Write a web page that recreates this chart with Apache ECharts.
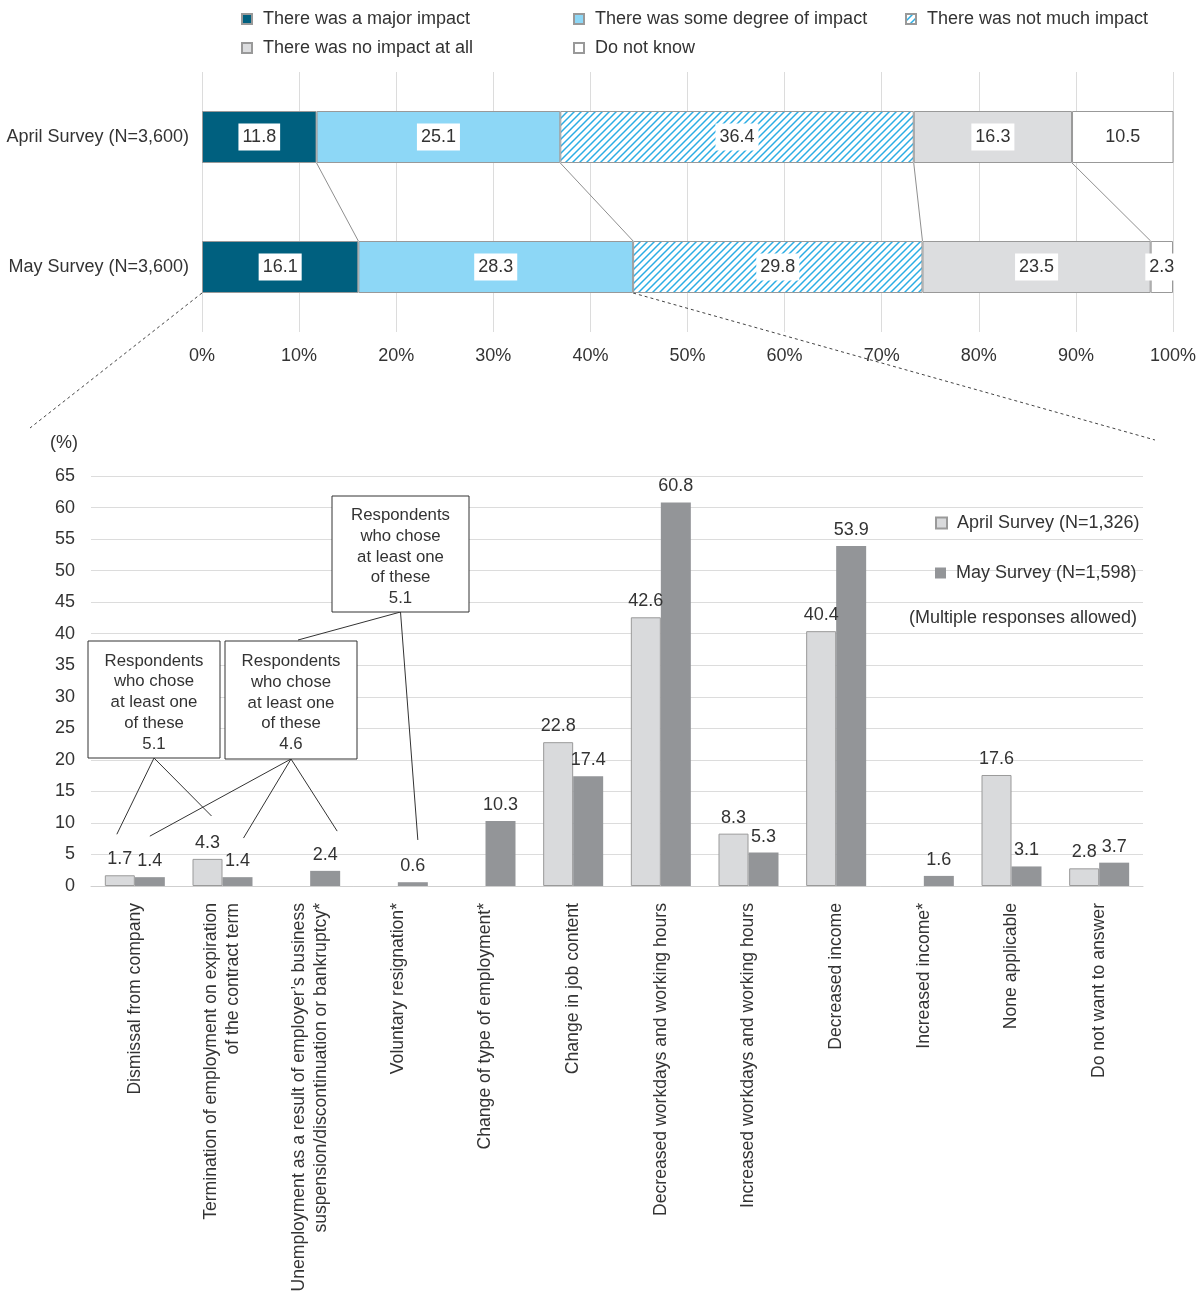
<!DOCTYPE html>
<html><head><meta charset="utf-8">
<script src="https://cdn.jsdelivr.net/npm/echarts@6/dist/echarts.min.js"></script>
<style>html,body{margin:0;padding:0;background:#fff}#c{width:1203px;height:1295px}</style>
</head><body><div id="c"></div>
<script>
// ---------- DATA ----------
const surveys = ['April Survey (N=3,600)', 'May Survey (N=3,600)'];
const impactNames = ['There was a major impact', 'There was some degree of impact', 'There was not much impact', 'There was no impact at all', 'Do not know'];
const majorImpact = [11.8, 16.1];
const someImpact = [25.1, 28.3];
const notMuchImpact = [36.4, 29.8];
const noImpact = [16.3, 23.5];
const doNotKnow = [10.5, 2.3];

const changeCategories = [
  'Dismissal from company',
  'Termination of employment on expiration\nof the contract term',
  'Unemployment as a result of employer\u2019s business\nsuspension/discontinuation or bankruptcy*',
  'Voluntary resignation*',
  'Change of type of employment*',
  'Change in job content',
  'Decreased workdays and working hours',
  'Increased workdays and working hours',
  'Decreased income',
  'Increased income*',
  'None applicable',
  'Do not want to answer'
];
const aprilName = 'April Survey (N=1,326)';
const mayName = 'May Survey (N=1,598)';
const aprilChanges = [1.7, 4.3, null, null, null, 22.8, 42.6, 8.3, 40.4, null, 17.6, 2.8];
const mayChanges = [1.4, 1.4, 2.4, 0.6, 10.3, 17.4, 60.8, 5.3, 53.9, 1.6, 3.1, 3.7];
const groupShares = [5.1, 4.6, 5.1];
const noteText = '(Multiple responses allowed)';

// ---------- STYLE ----------
const FONT = '"Liberation Sans", Arial, sans-serif';
const TXT = '#333';
const FS = 18;
function hatch() {
  const s = 7;
  const c = document.createElement('canvas');
  c.width = s; c.height = s;
  const g = c.getContext('2d');
  g.fillStyle = '#fff'; g.fillRect(0, 0, s, s);
  g.strokeStyle = '#2badE4'; g.lineWidth = 1.5;
  g.beginPath();
  g.moveTo(0, s); g.lineTo(s, 0);
  g.moveTo(-1, 1); g.lineTo(1, -1);
  g.moveTo(s - 1, s + 1); g.lineTo(s + 1, s - 1);
  g.stroke();
  return c;
}
const topColors = ['#00607f', '#8dd7f6', { image: hatch(), repeat: 'repeat' }, '#dcdddf', '#ffffff'];
const topData = [majorImpact, someImpact, notMuchImpact, noImpact, doNotKnow];

const chart = echarts.init(document.getElementById('c'), null, { renderer: 'canvas' });

const topSeries = impactNames.map((n, i) => ({
  name: n, type: 'bar', stack: 'imp', xAxisIndex: 0, yAxisIndex: 0,
  barWidth: 52, data: topData[i],
  itemStyle: { color: topColors[i], borderColor: '#999', borderWidth: 1 },
  label: {
    show: true, position: 'inside', formatter: p => p.value.toFixed(1),
    backgroundColor: '#fff', padding: [6, 4, 3, 4], color: TXT, fontSize: FS, fontFamily: FONT
  }
}));

const legendPos = [[241, 10], [573, 10], [905, 10], [241, 39], [573, 39]];
const legends = impactNames.map((n, i) => ({
  data: [n], left: legendPos[i][0], top: legendPos[i][1], padding: 0,
  icon: 'rect', itemWidth: 10, itemHeight: 10,
  textStyle: { fontSize: FS, color: TXT, fontFamily: FONT, padding: [0, 0, 0, 6] },
  selectedMode: false
}));
legends.push({
  data: [aprilName], left: 935, top: 514, padding: 0, icon: 'rect', itemWidth: 11, itemHeight: 11,
  textStyle: { fontSize: FS, color: TXT, fontFamily: FONT, padding: [0, 0, 0, 5] }, selectedMode: false
});
legends.push({
  data: [mayName], left: 935, top: 564, padding: 0, icon: 'rect', itemWidth: 11, itemHeight: 11,
  textStyle: { fontSize: FS, color: TXT, fontFamily: FONT, padding: [0, 0, 0, 5] }, selectedMode: false
});

const barLabel = { show: true, position: 'top', distance: 7, color: TXT, fontSize: FS, fontFamily: FONT };

chart.setOption({
  animation: false,
  backgroundColor: '#fff',
  textStyle: { fontFamily: FONT },
  legend: legends,
  grid: [
    { left: 202, right: 30, top: 72, bottom: 963 },
    { left: 91, right: 60, top: 476, bottom: 409 }
  ],
  xAxis: [
    { type: 'value', gridIndex: 0, min: 0, max: 100, interval: 10,
      axisLine: { show: false }, axisTick: { show: false },
      axisLabel: { formatter: '{value}%', fontSize: FS, color: TXT, margin: 15, fontFamily: FONT },
      splitLine: { lineStyle: { color: '#dcdcdc' } } },
    { type: 'category', gridIndex: 1, data: changeCategories,
      axisLine: { lineStyle: { color: '#cfcfcf' } }, axisTick: { show: false },
      axisLabel: { interval: 0, rotate: 90, fontSize: 17.6, color: TXT, margin: 17, lineHeight: 22, fontFamily: FONT } }
  ],
  yAxis: [
    { type: 'category', gridIndex: 0, data: surveys, inverse: true,
      axisLine: { show: false }, axisTick: { show: false },
      axisLabel: { fontSize: FS, color: TXT, margin: 13, fontFamily: FONT } },
    { type: 'value', gridIndex: 1, min: 0, max: 65, interval: 5,
      name: '(%)', nameLocation: 'end', nameGap: 24,
      nameTextStyle: { fontSize: FS, color: TXT, align: 'right', padding: [0, 13, 0, 0], fontFamily: FONT },
      axisLine: { show: false }, axisTick: { show: false },
      axisLabel: { fontSize: FS, color: TXT, margin: 16, fontFamily: FONT },
      splitLine: { lineStyle: { color: '#dcdcdc' } } }
  ],
  series: topSeries.concat([
    { name: aprilName, type: 'bar', xAxisIndex: 1, yAxisIndex: 1, barWidth: 30, barGap: '0%',
      data: aprilChanges, itemStyle: { color: '#d9dadc', borderColor: '#9a9a9a', borderWidth: 1 }, label: barLabel },
    { name: mayName, type: 'bar', xAxisIndex: 1, yAxisIndex: 1, barWidth: 30, barGap: '0%',
      data: mayChanges, itemStyle: { color: '#939598' }, label: barLabel }
  ])
});

// ---------- ANNOTATIONS (positions from the library's scales) ----------
const topPx = (x, y) => chart.convertToPixel({ xAxisIndex: 0, yAxisIndex: 0 }, [x, y]);
const botPx = (c, v) => chart.convertToPixel({ xAxisIndex: 1, yAxisIndex: 1 }, [c, v]);
const half = 26;
function cum(arrs, k) { let s = 0; const out = []; arrs.forEach(a => { s += a[k]; out.push(s); }); return out; }
const cumA = cum(topData, 0), cumM = cum(topData, 1);
const g = [];
for (let i = 0; i < 4; i++) {
  const p1 = topPx(cumA[i], 0), p2 = topPx(cumM[i], 1);
  g.push({ type: 'line', shape: { x1: p1[0], y1: p1[1] + half, x2: p2[0], y2: p2[1] - half },
    style: { stroke: '#8f8f8f', lineWidth: 1 }, z: 10 });
}
// dashed zoom lines
const z0 = topPx(0, 1), z1 = topPx(cumM[1], 1);
g.push({ type: 'line', shape: { x1: z0[0], y1: z0[1] + half, x2: 30, y2: 428 },
  style: { stroke: '#444', lineWidth: 1, lineDash: [3, 3] }, z: 10 });
g.push({ type: 'line', shape: { x1: z1[0], y1: z1[1] + half, x2: 1155, y2: 440 },
  style: { stroke: '#444', lineWidth: 1, lineDash: [3, 3] }, z: 10 });

// boxes
const boxes = [
  { x: 88, y: 641, w: 132, h: 117, v: groupShares[0] },
  { x: 225, y: 641, w: 132, h: 118, v: groupShares[1] },
  { x: 332, y: 496, w: 137, h: 116, v: groupShares[2] }
];
boxes.forEach(b => {
  g.push({ type: 'rect', shape: { x: b.x, y: b.y, width: b.w, height: b.h },
    style: { fill: '#fff', stroke: '#333', lineWidth: 1 }, z: 20 });
  g.push({ type: 'text', x: b.x + b.w / 2, y: b.y + b.h / 2 + 3, z: 21,
    style: { text: 'Respondents\nwho chose\nat least one\nof these\n' + b.v.toFixed(1),
      fill: TXT, fontSize: 16.8, lineHeight: 20.7, align: 'center', verticalAlign: 'middle', fontFamily: FONT } });
});
function leader(b, x2, y2) {
  g.push({ type: 'line', shape: { x1: b.x + b.w / 2, y1: b.y + b.h, x2: x2, y2: y2 },
    style: { stroke: '#333', lineWidth: 1 }, z: 19 });
}
// [category index, px offset from category centre, value height]
const l1 = [[0, -18, 8.2], [1, -11, 11.1]];
const l2 = [[0, 15, 7.9], [1, 21, 7.6], [2, 27, 8.7]];
const l3 = [[3, 20, 7.3]];
l1.forEach(t => { const p = botPx(t[0], t[2]); leader(boxes[0], p[0] + t[1], p[1]); });
l2.forEach(t => { const p = botPx(t[0], t[2]); leader(boxes[1], p[0] + t[1], p[1]); });
l3.forEach(t => { const p = botPx(t[0], t[2]); leader(boxes[2], p[0] + t[1], p[1]); });
leader(boxes[2], boxes[1].x + 73, boxes[1].y - 1);

g.push({ type: 'text', x: 909, y: 618, z: 21,
  style: { text: noteText, fill: TXT, fontSize: FS, align: 'left', verticalAlign: 'middle', fontFamily: FONT } });

chart.setOption({ graphic: g });
</script>
</body></html>
